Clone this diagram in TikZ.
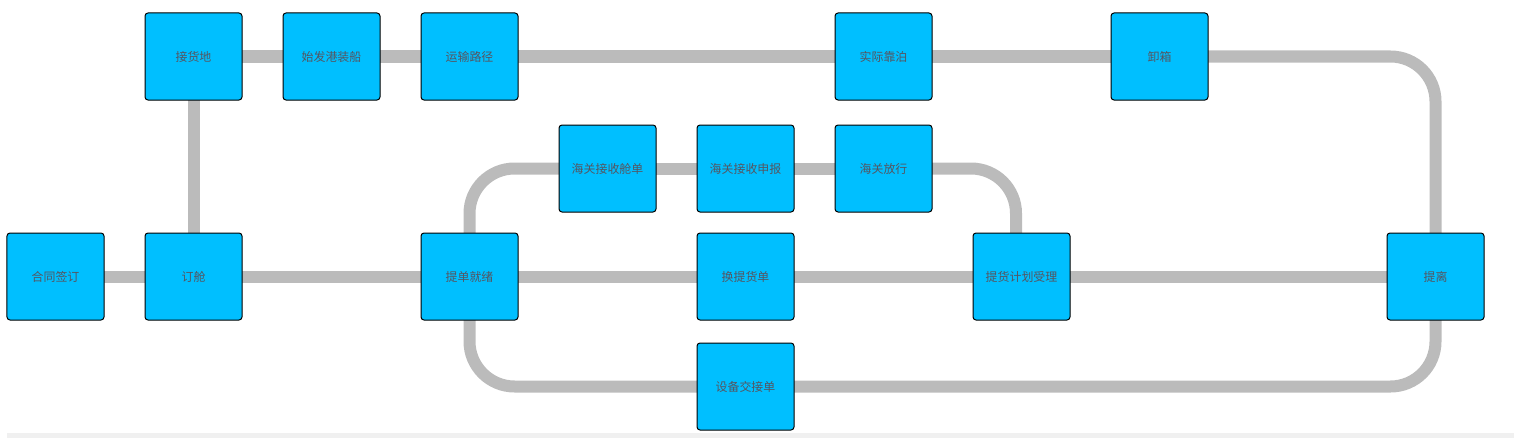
\documentclass[tikz,border=0pt]{standalone}
\usepackage{fontspec}
\setmainfont{Noto Sans CJK SC}
\usetikzlibrary{backgrounds}
\definecolor{boxfill}{HTML}{00BFFF}
\definecolor{linegray}{HTML}{BBBBBB}
\definecolor{txtgray}{HTML}{555560}
\definecolor{bargray}{HTML}{F0F0F0}
\tikzset{
  stepbox/.style={draw=black, line width=0.5mm, fill=boxfill, rounded corners=1.5mm,
    minimum width=48.5mm, minimum height=43.5mm, inner sep=0pt,
    text=txtgray, font=\fontsize{17}{20}\selectfont},
  flow/.style={draw=linegray, line width=6mm, rounded corners=22.5mm}
}
\begin{document}
\begin{tikzpicture}[x=0.5mm,y=-0.5mm]
\useasboundingbox (0,0) rectangle (1514,438);
\fill[bargray] (7,433) rectangle (1514,438);
% nodes
\node[stepbox] (hetong) at (55.5,276.5) {合同签订};
\node[stepbox] (dingcang) at (193.5,276.5) {订舱};
\node[stepbox] (jiehuo) at (193.5,56.5) {接货地};
\node[stepbox] (shifa) at (331.5,56.5) {始发港装船};
\node[stepbox] (yunshu) at (469.5,56.5) {运输路径};
\node[stepbox] (shiji) at (883.5,56.5) {实际靠泊};
\node[stepbox] (xiexiang) at (1159.5,56.5) {卸箱};
\node[stepbox] (hgcd) at (607.5,168.5) {海关接收舱单};
\node[stepbox] (hgsb) at (745.5,168.5) {海关接收申报};
\node[stepbox] (hgfx) at (883.5,168.5) {海关放行};
\node[stepbox] (tidan) at (469.5,276.5) {提单就绪};
\node[stepbox] (huanti) at (745.5,276.5) {换提货单};
\node[stepbox] (tihuo) at (1021.5,276.5) {提货计划受理};
\node[stepbox] (tili) at (1435.5,276.5) {提离};
\node[stepbox] (sbjj) at (745.5,386.5) {设备交接单};
% connectors
\begin{scope}[on background layer]
\draw[flow] (hetong.center) -- (dingcang.center);
\draw[flow] (dingcang.center) -- (jiehuo.center);
\draw[flow] (jiehuo.center) -- (shifa.center);
\draw[flow] (shifa.center) -- (yunshu.center);
\draw[flow] (yunshu.center) -- (shiji.center);
\draw[flow] (shiji.center) -- (xiexiang.center);
\draw[flow] (xiexiang.center) -| (tili.center);
\draw[flow] (dingcang.center) -- (tidan.center);
\draw[flow] (tidan.center) -- (huanti.center);
\draw[flow] (huanti.center) -- (tihuo.center);
\draw[flow] (tihuo.center) -- (tili.center);
\draw[flow] (tidan.center) |- (hgcd.center);
\draw[flow] (hgcd.center) -- (hgsb.center);
\draw[flow] (hgsb.center) -- (hgfx.center);
\draw[flow] (hgfx.center) -| ([xshift=-2.75mm]tihuo.center);
\draw[flow] (tidan.center) |- (sbjj.center);
\draw[flow] (sbjj.center) -| (tili.center);
\end{scope}
\end{tikzpicture}
\end{document}
